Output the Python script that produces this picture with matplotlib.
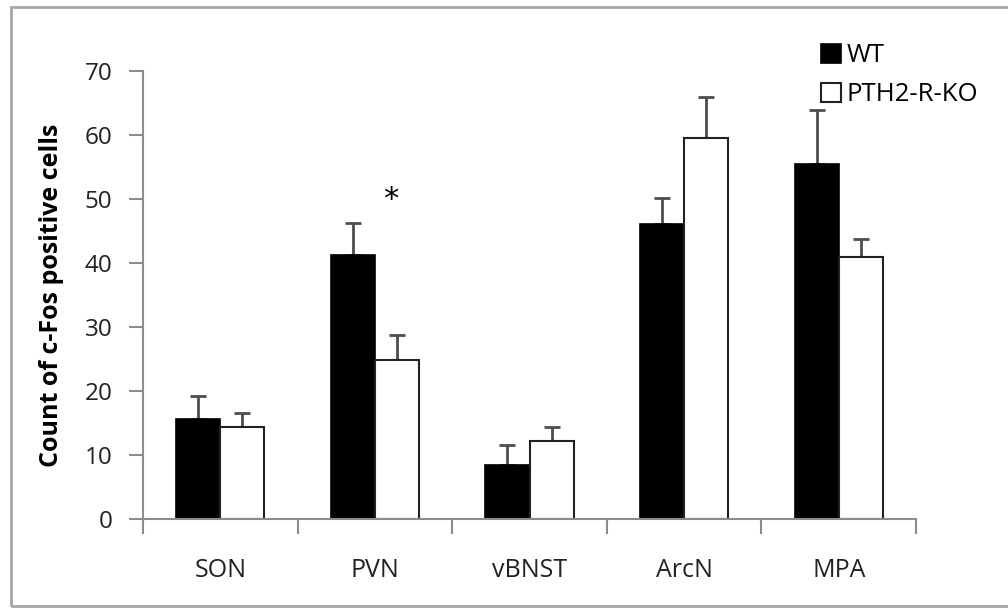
import numpy as np
import matplotlib.pyplot as plt
from matplotlib.patches import Rectangle

plt.rcParams['font.family'] = ['Open Sans', 'DejaVu Sans']

regions = ['SON', 'PVN', 'vBNST', 'ArcN', 'MPA']
wt_mean = [15.6, 41.3, 8.5, 46.1, 55.4]
wt_err = [3.6, 5.0, 3.0, 4.0, 8.5]
ko_mean = [14.4, 24.9, 12.2, 59.5, 41.0]
ko_err = [2.1, 3.9, 2.2, 6.5, 2.7]
yticks = [0, 10, 20, 30, 40, 50, 60, 70]

axis_grey = '#8c8c8c'
err_grey = '#4d4d4d'

fig = plt.figure(figsize=(10.08, 6.08), dpi=100)
ax = fig.add_axes([143 / 1008, 1 - 519 / 608, (916 - 143) / 1008, (519 - 71) / 608])

# grey frame round the whole picture
fig.patches.append(Rectangle((11 / 1008, 2 / 608), 1.1, 599 / 608, transform=fig.transFigure,
                             fill=False, edgecolor='#a6a6a6', linewidth=2))

x = np.arange(len(regions))
w = 0.285
ax.bar(x - w / 2, wt_mean, w, color='black', edgecolor='black', linewidth=1.2,
       label='WT', zorder=2)
ax.bar(x + w / 2, ko_mean, w, color='white', edgecolor='#222222', linewidth=1.5,
       label='PTH2-R-KO', zorder=2)

# only upper error bars
ax.errorbar(x - w / 2, wt_mean, yerr=[np.zeros(len(x)), wt_err], fmt='none',
            ecolor=err_grey, elinewidth=2, capsize=6, capthick=2, zorder=1)
ax.errorbar(x + w / 2, ko_mean, yerr=[np.zeros(len(x)), ko_err], fmt='none',
            ecolor=err_grey, elinewidth=2, capsize=6, capthick=2, zorder=1)

ax.text(x[1] + w / 2 - 0.04, 49.9, '*', ha='center', va='center', fontsize=22,
        family='DejaVu Sans')

ax.set_xlim(-0.5, len(regions) - 0.5)
ax.set_ylim(0, 70)
ax.set_yticks(yticks)
ax.set_xticks(np.arange(len(regions) + 1) - 0.5)
ax.set_xticklabels([])
ax.set_xticks(x, minor=True)
ax.set_xticklabels(regions, minor=True)
ax.tick_params(axis='x', which='minor', length=0, pad=28, labelsize=18, labelcolor='#222222')
ax.tick_params(axis='x', which='major', length=11, width=1.5, color=axis_grey, direction='out')
ax.tick_params(axis='y', length=10, width=1.5, color=axis_grey, pad=12, labelsize=17.5,
               labelcolor='#222222')

for s in ['top', 'right']:
    ax.spines[s].set_visible(False)
for s in ['left', 'bottom']:
    ax.spines[s].set_color(axis_grey)
    ax.spines[s].set_linewidth(1.5)

ax.set_ylabel('Count of c-Fos positive cells', fontsize=18, fontweight='bold', labelpad=15)

ax.legend(loc='upper left', bbox_to_anchor=(811 / 1008, 1 - 33 / 608),
          bbox_transform=fig.transFigure, frameon=False, fontsize=18.5,
          handlelength=0.75, handleheight=0.75, handletextpad=0.25, labelspacing=0.55,
          borderaxespad=0)

fig.savefig('out.png', dpi=100, facecolor='white')
